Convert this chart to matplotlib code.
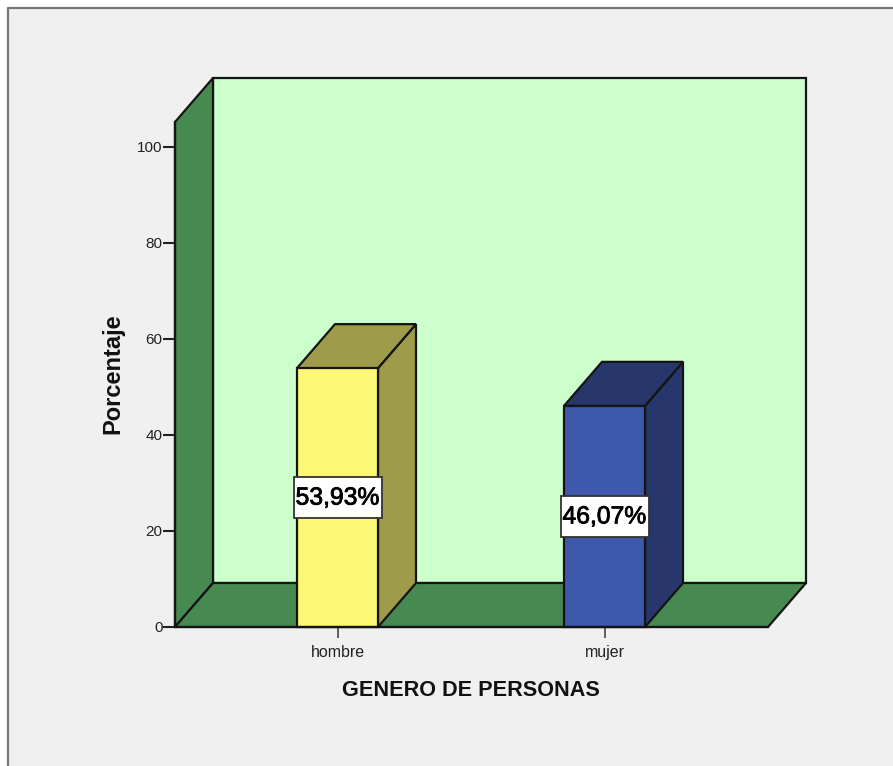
import matplotlib
matplotlib.use('Agg')
import matplotlib.pyplot as plt
import matplotlib.patheffects as pe
from matplotlib.patches import Polygon, Rectangle

categories = ['hombre', 'mujer']
porcentajes = [53.93, 46.07]
etiquetas = ['53,93%', '46,07%']
yticks = [0, 20, 40, 60, 80, 100]

W, H = 893, 766
plt.rcParams['font.family'] = ['Liberation Sans', 'DejaVu Sans']

fig = plt.figure(figsize=(W / 100, H / 100), dpi=100, facecolor='#f0f0f0')

# marco exterior
fig.add_artist(plt.Line2D([8 / W, 8 / W, 1], [0, 1 - 8 / H, 1 - 8 / H], color='#777777', lw=1.6))
fig.add_artist(plt.Rectangle((0, 1 - 6.5 / H), 1, 6.5 / H, color='white', lw=0))
fig.add_artist(plt.Rectangle((0, 0), 7 / W, 1, color='white', lw=0))

# plano frontal: x 175-768 px, y 0 en 627 px, 100 en 147 px
px_y = 4.8
px_x = 267.0
ax = fig.add_axes([175 / W, 1 - 627 / H, 593 / W, 505 / H])
ax.set_xlim(-162.5 / px_x, 1 + 163.5 / px_x)
ax.set_ylim(0, 505 / px_y)
ax.patch.set_visible(False)

dx = 38 / px_x
dy = 44 / px_y
x0, x1 = ax.get_xlim()
y0, y1 = ax.get_ylim()
edge = '#141414'
lw = 1.6


def poly(pts, color, z=1):
    ax.add_patch(Polygon(pts, closed=True, facecolor=color, edgecolor=edge, lw=lw,
                         joinstyle='miter', clip_on=False, zorder=z))


# paredes
poly([(x0 + dx, y0 + dy), (x1 + dx, y0 + dy), (x1 + dx, y1 + dy), (x0 + dx, y1 + dy)], '#ccffcc')
poly([(x0, y0), (x0 + dx, y0 + dy), (x0 + dx, y1 + dy), (x0, y1)], '#468a52')
poly([(x0, y0), (x1, y0), (x1 + dx, y0 + dy), (x0 + dx, y0 + dy)], '#468a52')

# barras 3D
colores = [('#fcf876', '#9e9c4a'), ('#3e58ac', '#27376c')]
bw = 81 / px_x
box_w = 88 / px_x
box_h = 41 / px_y
for i, (v, (c, c2)) in enumerate(zip(porcentajes, colores)):
    l, r = i - bw / 2, i + bw / 2
    poly([(r, 0), (r + dx, dy), (r + dx, v + dy), (r, v)], c2, 3)
    poly([(l, v), (r, v), (r + dx, v + dy), (l + dx, v + dy)], c2, 3)
    poly([(l, 0), (r, 0), (r, v), (l, v)], c, 4)
    ax.add_patch(Rectangle((i - box_w / 2, v / 2 - box_h / 2), box_w, box_h, facecolor='white',
                           edgecolor='#333333', lw=1.3, zorder=5))
    t = ax.text(i, v / 2, etiquetas[i], ha='center', va='center', fontsize=17.8, color='black', zorder=6)
    t.set_path_effects([pe.withStroke(linewidth=0.6, foreground='black')])

for s in ['top', 'right']:
    ax.spines[s].set_visible(False)
for s in ['left', 'bottom']:
    ax.spines[s].set_linewidth(lw)
    ax.spines[s].set_color(edge)
    ax.spines[s].set_zorder(7)

ax.set_yticks(yticks)
ax.set_xticks(range(len(categories)))
ax.set_xticklabels(categories)
ax.tick_params(axis='y', length=9, width=1.5, color='#222222', labelsize=11, pad=0, labelcolor='#222222')
ax.tick_params(axis='x', length=8, width=1.2, color='#444444', labelsize=11.5, pad=5, labelcolor='#222222')

fig.text(470.5 / W, 1 - 690 / H, 'GENERO DE PERSONAS', ha='center', va='center', fontsize=15.6, fontweight='bold', color='#111111')
fig.text(113 / W, 1 - 374 / H, 'Porcentaje', rotation=90, ha='center', va='center', fontsize=17, fontweight='bold', color='#111111')

fig.savefig('out.png', dpi=100, facecolor=fig.get_facecolor())
